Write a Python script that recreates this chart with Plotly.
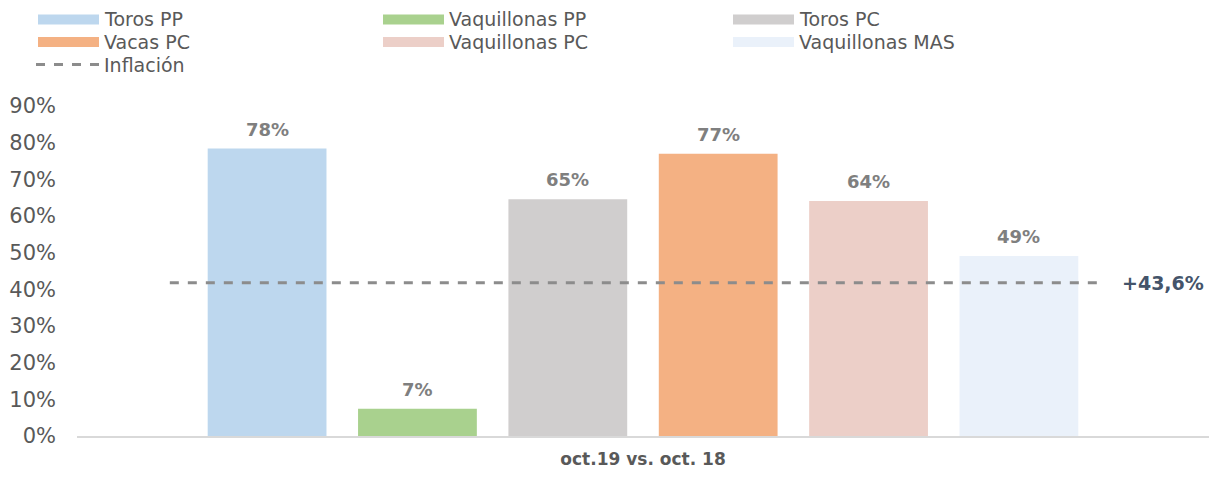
import plotly.graph_objects as go

# ---- data ----
category = ["oct.19 vs. oct. 18"]
series_names = ["Toros PP", "Vaquillonas PP", "Toros PC", "Vacas PC", "Vaquillonas PC", "Vaquillonas MAS"]
series_values = [0.784, 0.074, 0.646, 0.770, 0.641, 0.491]
inflation_value = 0.418
inflation_label = "+43,6%"
y_ticks = [0, 0.1, 0.2, 0.3, 0.4, 0.5, 0.6, 0.7, 0.8, 0.9]

colors = ["#BDD7EE", "#A9D18E", "#D0CECE", "#F4B183", "#ECCFC8", "#EAF1FA"]
FONT = "DejaVu Sans"
OFF = 8  # page body margin
W, H = 1217 - 2 * OFF, 477 - 2 * OFF
L, R, T, B = 77 - OFF, 0, 106 - OFF, 477 - 436 - OFF
pw, ph = W - L - R, H - T - B
BARGAP, BARGROUPGAP = 0.203, 0.21
slot = pw * (1 - BARGAP) / len(series_names)

def px(x):  # screen x -> paper
    return (x - OFF - L) / pw

def py(y):  # screen y -> paper
    return (H - B - (y - OFF)) / ph

fig = go.Figure()
n = len(series_names)
for i, (name, val, col) in enumerate(zip(series_names, series_values, colors)):
    fig.add_trace(go.Bar(
        x=category, y=[val], name=name, marker_color=col, marker_line_width=0,
        showlegend=False,
    ))
    fig.add_annotation(x=category[0], y=val, xref="x", yref="y",
                       xshift=(i - (n - 1) / 2) * slot, yshift=7,
                       text=f"<b>{val:.0%}</b>", showarrow=False,
                       xanchor="center", yanchor="bottom",
                       font=dict(family=FONT, size=18, color="#7F7F7F"))

fig.add_trace(go.Scatter(
    x=[0.082, 0.907], y=[inflation_value] * 2, xaxis="x2", mode="lines",
    line=dict(color="#8C8C8C", width=3, dash="dash"), name="Inflación", showlegend=False,
))

fig.add_annotation(x=px(1163), y=inflation_value, xref="paper", yref="y",
                   text=f"<b>{inflation_label}</b>", showarrow=False,
                   xanchor="center", yanchor="middle",
                   font=dict(family=FONT, size=19, color="#44546A"))

# ---- legend (drawn) ----
col_x = [38, 383, 733]
row_y = [19.5, 42, 64.5]
for i, (nm, c) in enumerate(zip(series_names, colors)):
    cx, ry = col_x[i % 3], row_y[i // 3]
    fig.add_shape(type="rect", xref="paper", yref="paper",
                  x0=px(cx), x1=px(cx + 61), y0=py(ry + 5), y1=py(ry - 5),
                  fillcolor=c, line_width=0)
    fig.add_annotation(x=px(cx + 65), y=py(ry), xref="paper", yref="paper",
                       text=nm, showarrow=False, xanchor="left", yanchor="middle",
                       borderpad=0,
                       font=dict(family=FONT, size=19, color="#595959"))
fig.add_shape(type="line", xref="paper", yref="paper",
              x0=px(36), x1=px(99), y0=py(row_y[2]), y1=py(row_y[2]),
              line=dict(color="#8C8C8C", width=3, dash="dash"))
fig.add_annotation(x=px(103), y=py(row_y[2]), xref="paper", yref="paper",
                   text="Inflación", showarrow=False, xanchor="left", yanchor="middle",
                   borderpad=0,
                   font=dict(family=FONT, size=19, color="#595959"))

fig.update_layout(
    width=W, height=H, margin=dict(l=L, r=R, t=T, b=B),
    paper_bgcolor="white", plot_bgcolor="white",
    barmode="group", bargap=BARGAP, bargroupgap=BARGROUPGAP,
    showlegend=False,
    xaxis=dict(showline=True, linecolor="#D9D9D9", linewidth=2, ticks="",
               tickfont=dict(family=FONT, size=17, color="#595959", weight="bold"),
               ticklabelstandoff=7, automargin=False),
    xaxis2=dict(overlaying="x", range=[0, 1], visible=False),
    yaxis=dict(range=[0, 0.9], tickvals=y_ticks, tickformat=".0%", showgrid=False,
               zeroline=False, showline=False, ticklabelstandoff=20, automargin=False,
               tickfont=dict(family=FONT, size=21, color="#595959")),
)

fig.write_html("out.html")
